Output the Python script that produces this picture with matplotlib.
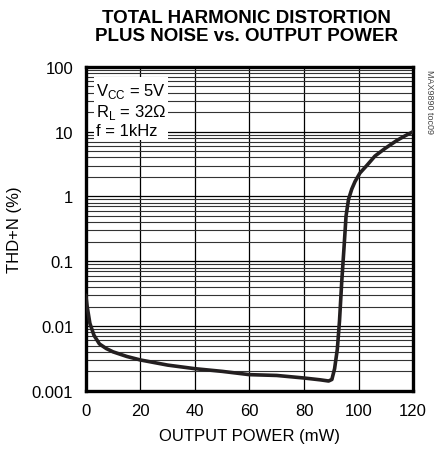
import matplotlib
matplotlib.use("Agg")
import matplotlib.pyplot as plt
from matplotlib.ticker import FixedLocator, LogLocator, NullFormatter

# THD+N against output power, MAX9890, VCC = 5V, RL = 32 ohm, f = 1kHz
power_mw = [0.0, 0.5, 1.5, 3, 5, 7.5, 10, 15, 20, 30, 40, 50, 60, 70, 80,
            86, 89, 90.2, 91.2, 92.2, 93.0, 93.8, 94.6, 95.4, 96.3, 97.5,
            98.7, 100.5, 103, 106, 109.7, 114, 117, 120]
thdn_pct = [0.03, 0.02, 0.011, 0.0072, 0.0053, 0.0045, 0.004, 0.0034,
            0.003, 0.0025, 0.0022, 0.002, 0.00178, 0.00173, 0.00158,
            0.00148, 0.00142, 0.0015, 0.0022, 0.0044, 0.012, 0.047, 0.15,
            0.5, 0.9, 1.3, 1.7, 2.3, 3.0, 4.2, 5.5, 7.3, 8.6, 10.0]

x_ticks = [0, 20, 40, 60, 80, 100, 120]
y_ticks = [0.001, 0.01, 0.1, 1, 10, 100]
y_labels = ["0.001", "0.01", "0.1", "1", "10", "100"]

sans = ["Liberation Sans", "DejaVu Sans"]
plt.rcParams["mathtext.fontset"] = "custom"
plt.rcParams["mathtext.rm"] = "Liberation Sans"

fig = plt.figure(figsize=(4.4, 4.52), dpi=100)
ax = fig.add_axes([0.195, 0.133, 0.744, 0.717])

ax.set_yscale("log")
ax.set_xlim(0, 120)
ax.set_ylim(0.001, 100)

ax.xaxis.set_major_locator(FixedLocator(x_ticks))
ax.yaxis.set_major_locator(FixedLocator(y_ticks))
ax.yaxis.set_minor_locator(LogLocator(base=10, subs=range(2, 10)))
ax.yaxis.set_minor_formatter(NullFormatter())
ax.set_yticklabels(y_labels, family=sans, fontsize=12)
ax.set_xticklabels([str(v) for v in x_ticks], family=sans, fontsize=12)
ax.tick_params(which="both", length=0, pad=9)

ax.grid(which="major", axis="both", color="black", linewidth=0.9)
ax.grid(which="minor", axis="y", color="#333333", linewidth=0.8)
ax.set_axisbelow(True)

for s in ax.spines.values():
    s.set_linewidth(2.4)

ax.plot(power_mw, thdn_pct, color="#231f20", linewidth=2.6,
        solid_capstyle="round", zorder=5)

ax.text(0.03, 0.955, "V$_{\\mathregular{CC}}$ = 5V\nR$_{\\mathregular{L}}$ = 32\u03a9\nf = 1kHz",
        transform=ax.transAxes, va="top", ha="left", family=sans,
        fontsize=12, linespacing=1.15, zorder=6,
        bbox=dict(facecolor="white", edgecolor="none", pad=1.5))

ax.set_xlabel("OUTPUT POWER (mW)", family=sans, fontsize=12, labelpad=7)
ax.set_ylabel("THD+N (%)", family=sans, fontsize=12, labelpad=7)

fig.text(0.56, 0.978, "TOTAL HARMONIC DISTORTION\nPLUS NOISE vs. OUTPUT POWER",
         ha="center", va="top", family=sans, fontweight="bold",
         fontsize=13.5, linespacing=1.1)
fig.text(0.977, 0.845, "MAX9890 toc09", rotation=-90, ha="center", va="top",
         family=sans, fontsize=6.5, color="#444444")

fig.savefig("out.png", dpi=100)
